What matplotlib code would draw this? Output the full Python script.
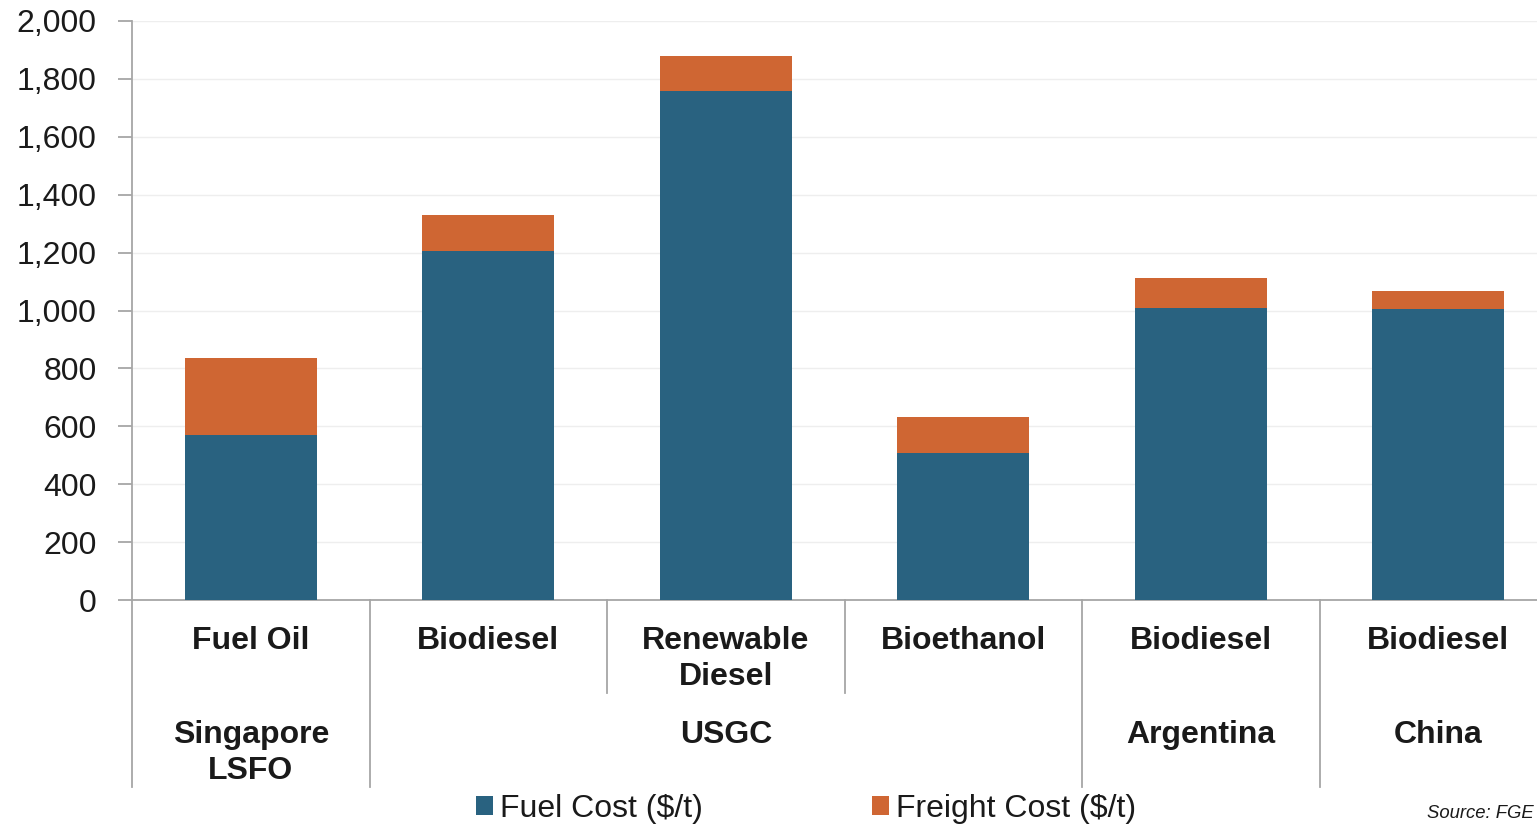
import numpy as np
import matplotlib.pyplot as plt

plt.rcParams['font.family'] = ['Liberation Sans', 'DejaVu Sans']

products = ['Fuel Oil', 'Biodiesel', 'Renewable\nDiesel', 'Bioethanol', 'Biodiesel', 'Biodiesel']
regions = ['Singapore\nLSFO', 'USGC', 'Argentina', 'China']
region_span = [(0, 0), (1, 3), (4, 4), (5, 5)]
fuel_cost = [570, 1205, 1758, 508, 1009, 1005]
freight_cost = [266, 125, 121, 124, 103, 62]

blue = '#296280'
orange = '#cf6633'
grey = '#a6a6a6'

fig = plt.figure(figsize=(15.37, 8.25), dpi=100)
ax = fig.add_axes([132 / 1537, 1 - 600 / 825, 1 - 132 / 1537, (600 - 21) / 825])

x = np.arange(len(products))
w = 0.556
ax.bar(x, fuel_cost, w, color=blue, label='Fuel Cost ($/t)', zorder=3)
ax.bar(x, freight_cost, w, bottom=fuel_cost, color=orange, label='Freight Cost ($/t)', zorder=3)

ax.set_ylim(0, 2000)
ax.set_xlim(-0.5, 5.5 - 20 / 237.5)
ax.set_yticks(range(0, 2001, 200))
ax.set_yticklabels([f'{v:,}' for v in range(0, 2001, 200)], fontsize=23, color='#1a1a1a')
ax.set_xticks([])
ax.grid(axis='y', color='#eeeeee', lw=1, zorder=0)
for s in ['top', 'right']:
    ax.spines[s].set_visible(False)
ax.spines['left'].set_color(grey)
ax.spines['bottom'].set_color(grey)
ax.spines['left'].set_linewidth(1.3)
ax.spines['bottom'].set_linewidth(1.3)
ax.tick_params(axis='y', length=10, color=grey, width=1.3, pad=15.5)

# category axis, two levels
tr = ax.get_xaxis_transform()
h = 579.0  # axes height in px
def ay(py):
    return -(py - 600) / h

for i in range(len(products) + 1):
    b = i - 0.5
    full = i in (0, 1, 4, 5, 6)
    y1 = ay(787) if full else ay(693)
    ax.plot([b, b], [0, y1], color=grey, lw=1.3, transform=tr, clip_on=False)

for i, p in enumerate(products):
    ax.text(i, ay(626), p, transform=tr, ha='center', va='top', fontsize=23,
            fontweight='bold', color='#1a1a1a', linespacing=1.25)

for (a, b), r in zip(region_span, regions):
    ax.text((a + b) / 2, ay(720), r, transform=tr, ha='center', va='top', fontsize=23,
            fontweight='bold', color='#1a1a1a', linespacing=1.25)

# legend
ax.legend(loc='center', bbox_to_anchor=((806 - 132) / 1405, ay(809)), ncol=2, frameon=False,
          fontsize=23, handlelength=0.53, handleheight=0.53, handletextpad=0.22,
          columnspacing=5.3, labelcolor='#1a1a1a')

fig.text(0.998, 1 - 814 / 825, 'Source: FGE', ha='right', va='center', fontsize=13.3,
         style='italic', color='#1a1a1a')

fig.savefig('out.png', dpi=100)
